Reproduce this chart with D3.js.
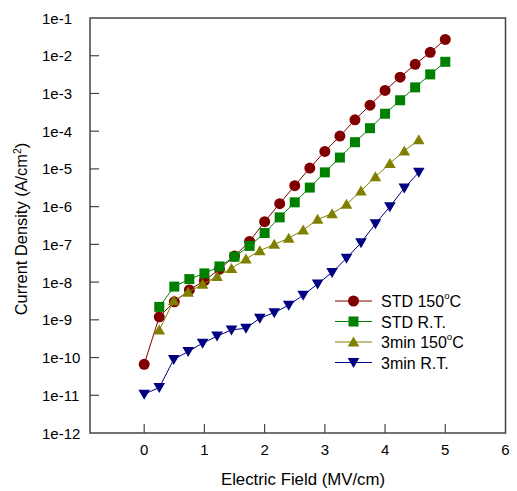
<!DOCTYPE html>
<html>
<head>
<meta charset="utf-8">
<script src="https://cdn.jsdelivr.net/npm/d3@7"></script>
<style>
  body { margin: 0; background: #fff; }
  text { font-family: "Liberation Sans", Arial, sans-serif; fill: #000; }
</style>
</head>
<body>
<div id="chart"></div>
<script>
// field values (MV/cm)
const xStd = [0, 0.25, 0.5, 0.75, 1, 1.25, 1.5, 1.75, 2, 2.25, 2.5, 2.75, 3, 3.25, 3.5, 3.75, 4, 4.25, 4.5, 4.75, 5];
const x3min = [0, 0.25, 0.49, 0.73, 0.97, 1.21, 1.45, 1.69, 1.92, 2.16, 2.40, 2.64, 2.88, 3.12, 3.36, 3.60, 3.84, 4.08, 4.32, 4.56];

// current density (A/cm2)
const std150 = [6.6e-11, 1.2e-9, 3e-9, 6.2e-9, 1.1e-8, 2.2e-8, 4.9e-8, 1.2e-7, 4e-7, 1.2e-6, 3.6e-6, 1.05e-5,
  2.9e-5, 7.4e-5, 2e-4, 4.9e-4, 1.2e-3, 2.7e-3, 5.9e-3, 1.23e-2, 2.7e-2];
const stdRT = [null, 2.2e-9, 7.6e-9, 1.2e-8, 1.7e-8, 2.6e-8, 4.7e-8, 9.1e-8, 2e-7, 5.2e-7, 1.3e-6, 3.2e-6,
  8.1e-6, 2e-5, 5.1e-5, 1.2e-4, 2.9e-4, 6.6e-4, 1.45e-3, 3.2e-3, 6.9e-3];
const min150 = [null, 5.4e-10, 3.2e-9, 5.4e-9, 8.7e-9, 1.4e-8, 2.3e-8, 4.1e-8, 6.8e-8, 1.0e-7, 1.45e-7, 2.4e-7,
  4.6e-7, 6.5e-7, 1.15e-6, 2.6e-6, 6.2e-6, 1.4e-5, 3.0e-5, 5.9e-5];
const minRT = [1.07e-11, 1.6e-11, 8.9e-11, 1.45e-10, 2.4e-10, 3.7e-10, 5.4e-10, 6e-10, 1.1e-9, 1.55e-9, 2.45e-9,
  4.5e-9, 8.9e-9, 1.8e-8, 4.3e-8, 1.1e-7, 3.5e-7, 1e-6, 3.1e-6, 8.1e-6];

const xTicks = [0, 1, 2, 3, 4, 5, 6];
const yTicks = [1e-12, 1e-11, 1e-10, 1e-9, 1e-8, 1e-7, 1e-6, 1e-5, 1e-4, 1e-3, 1e-2, 1e-1];
const yTickLabels = ["1e-12", "1e-11", "1e-10", "1e-9", "1e-8", "1e-7", "1e-6", "1e-5", "1e-4", "1e-3", "1e-2", "1e-1"];

const series = [
  { name: "STD 150", sup: "o", after: "C", xs: xStd, ys: std150, color: "#800000", marker: "circle" },
  { name: "STD R.T.", xs: xStd, ys: stdRT, color: "#008000", marker: "square" },
  { name: "3min 150", sup: "o", after: "C", xs: x3min.slice(1), ys: min150.slice(1), color: "#808000", marker: "up" },
  { name: "3min R.T.", xs: x3min, ys: minRT, color: "#000080", marker: "down" }
];

const width = 517, height = 491;
const margin = { top: 18, right: 11.5, bottom: 58, left: 90 };

const svg = d3.select("#chart").append("svg")
  .attr("width", width)
  .attr("height", height);

const x = d3.scaleLinear().domain([-0.9, 6]).range([margin.left, width - margin.right]);
const y = d3.scaleLog().domain([1e-12, 1e-1]).range([height - margin.bottom, margin.top]);

// frame
svg.append("rect")
  .attr("x", margin.left).attr("y", margin.top)
  .attr("width", width - margin.left - margin.right)
  .attr("height", height - margin.top - margin.bottom)
  .attr("fill", "none").attr("stroke", "#444").attr("stroke-width", 1.5);

// inward ticks
svg.append("g").selectAll("line").data(xTicks.slice(0, -1)).enter().append("line")
  .attr("x1", d => x(d)).attr("x2", d => x(d))
  .attr("y1", y(1e-12)).attr("y2", y(1e-12) - 9)
  .attr("stroke", "#444").attr("stroke-width", 1.2);
svg.append("g").selectAll("line").data(yTicks.slice(1, -1)).enter().append("line")
  .attr("x1", x(-0.9)).attr("x2", x(-0.9) + 9)
  .attr("y1", d => y(d)).attr("y2", d => y(d))
  .attr("stroke", "#444").attr("stroke-width", 1.2);

svg.append("g").selectAll("text").data(xTicks).enter().append("text")
  .attr("x", d => x(d)).attr("y", 455)
  .attr("text-anchor", "middle").attr("font-size", 15)
  .text(d => d);
svg.append("g").selectAll("text").data(yTicks).enter().append("text")
  .attr("x", 42).attr("y", d => y(d) + 5.5)
  .attr("font-size", 15)
  .text((d, i) => yTickLabels[i]);

// axis titles
svg.append("text")
  .attr("x", 303).attr("y", 485)
  .attr("text-anchor", "middle").attr("font-size", 16.8)
  .text("Electric Field (MV/cm)");

const yt = svg.append("text")
  .attr("transform", "translate(27," + 229 + ") rotate(-90)")
  .attr("text-anchor", "middle").attr("font-size", 16.4);
yt.append("tspan").text("Current Density (A/cm");
yt.append("tspan").attr("font-size", 10.5).attr("dy", -6.5).text("2");
yt.append("tspan").attr("dy", 6.5).text(")");

function drawMarker(g, type, color) {
  if (type === "circle") {
    g.append("circle").attr("r", 5.5).attr("fill", color);
  } else if (type === "square") {
    g.append("rect").attr("x", -5).attr("y", -5).attr("width", 10).attr("height", 10).attr("fill", color);
  } else if (type === "up") {
    g.append("path").attr("d", "M0,-5.5L5.8,4.5L-5.8,4.5Z").attr("fill", color);
  } else {
    g.append("path").attr("d", "M0,5.5L5.8,-4.5L-5.8,-4.5Z").attr("fill", color);
  }
}

const line = d3.line().defined(d => d[1] != null).x(d => x(d[0])).y(d => y(d[1]));

series.forEach(s => {
  const pts = s.xs.map((v, i) => [v, s.ys[i]]).filter(d => d[1] != null);
  svg.append("path").datum(pts)
    .attr("d", line)
    .attr("fill", "none").attr("stroke", s.color).attr("stroke-width", 1);
  svg.append("g").selectAll("g").data(pts).enter().append("g")
    .attr("transform", d => "translate(" + x(d[0]) + "," + y(d[1]) + ")")
    .each(function() { drawMarker(d3.select(this), s.marker, s.color); });
});

// legend
const legendRows = [301, 321.5, 342, 362.5];
series.forEach((s, i) => {
  const g = svg.append("g").attr("transform", "translate(335," + legendRows[i] + ")");
  g.append("line").attr("x1", 0).attr("x2", 37).attr("stroke", s.color).attr("stroke-width", 1);
  const m = g.append("g").attr("transform", "translate(18.5,0)");
  drawMarker(m, s.marker, s.color);
  const t = g.append("text").attr("x", 46).attr("y", 6).attr("font-size", 16);
  t.append("tspan").text(s.name);
  if (s.sup) {
    t.append("tspan").attr("font-size", 9.5).attr("dy", -8).text(s.sup);
    t.append("tspan").attr("dy", 8).text(s.after);
  }
});
</script>
</body>
</html>
